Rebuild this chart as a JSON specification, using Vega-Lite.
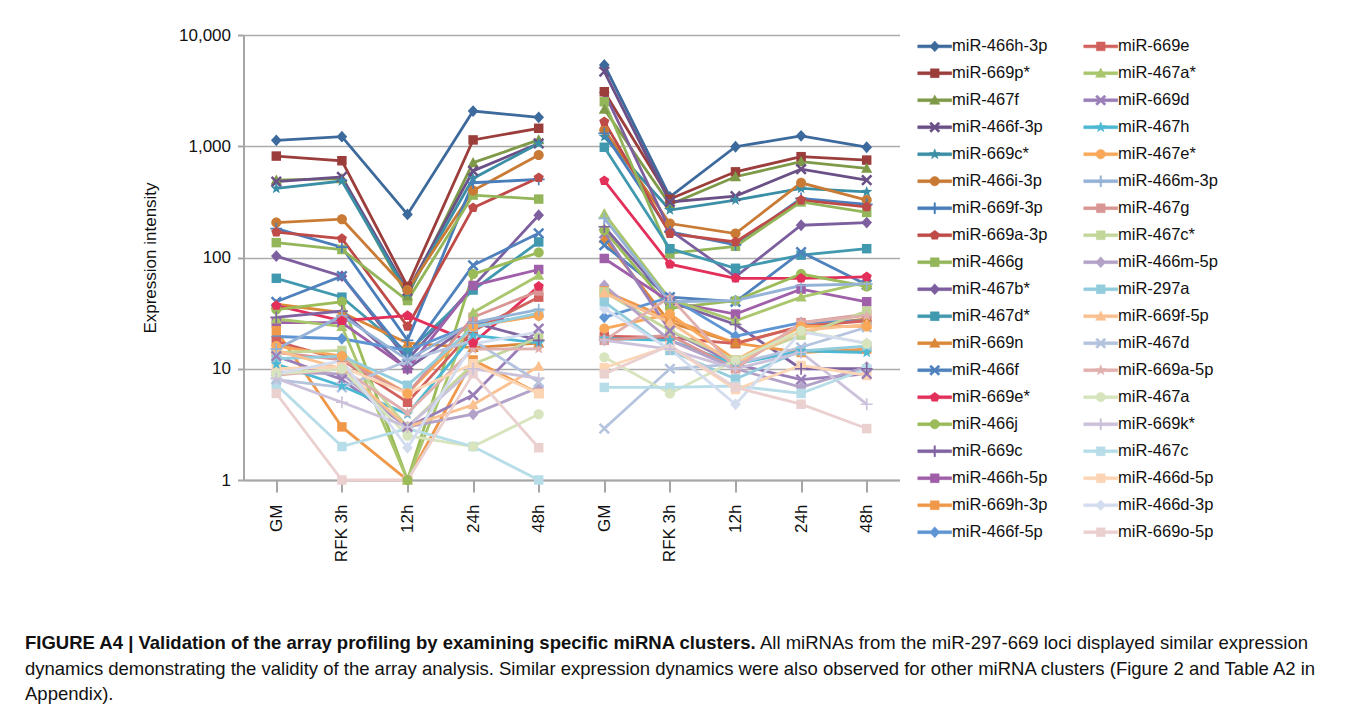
{
  "$schema": "https://vega.github.io/schema/vega-lite/v6.json",
  "width": 656,
  "height": 445,
  "autosize": {"type": "none"},
  "padding": {"left": 243.5, "top": 35, "right": 456.5, "bottom": 236},
  "background": "white",
  "config": {
    "font": "Liberation Sans",
    "view": {"stroke": null},
    "axis": {"labelFont": "Liberation Sans", "titleFont": "Liberation Sans", "labelColor": "#111", "titleColor": "#111", "domainColor": "#A6A6A6", "tickColor": "#A6A6A6", "gridColor": "#ABABAB", "domainWidth": 2, "tickWidth": 2, "gridWidth": 1.6}
  },
  "title": {
    "text": "FIGURE A4 | Validation of the array profiling by examining specific miRNA clusters.",
    "subtitle": [
      "dynamics demonstrating the validity of the array analysis. Similar expression dynamics were also observed for other miRNA clusters (Figure 2 and Table A2 in",
      "Appendix)."
    ],
    "orient": "bottom",
    "anchor": "start",
    "frame": "group",
    "dx": -218.5,
    "offset": -18,
    "font": "Liberation Sans",
    "fontSize": 18.5,
    "fontWeight": "bold",
    "color": "#111",
    "subtitleFont": "Liberation Sans",
    "subtitleFontSize": 18.5,
    "subtitleColor": "#111",
    "subtitleLineHeight": 25.5,
    "subtitlePadding": 7.5
  },
  "data": {"values": [
{"mirna":"miR-466h-3p","cond":"GFP","sample":"GFP|GM","value":1130},{"mirna":"miR-466h-3p","cond":"GFP","sample":"GFP|RFK 3h","value":1220},{"mirna":"miR-466h-3p","cond":"GFP","sample":"GFP|12h","value":244},{"mirna":"miR-466h-3p","cond":"GFP","sample":"GFP|24h","value":2070},{"mirna":"miR-466h-3p","cond":"GFP","sample":"GFP|48h","value":1820},
{"mirna":"miR-466h-3p","cond":"Cre-GFP","sample":"Cre-GFP|GM","value":5380},{"mirna":"miR-466h-3p","cond":"Cre-GFP","sample":"Cre-GFP|RFK 3h","value":350},{"mirna":"miR-466h-3p","cond":"Cre-GFP","sample":"Cre-GFP|12h","value":990},{"mirna":"miR-466h-3p","cond":"Cre-GFP","sample":"Cre-GFP|24h","value":1240},{"mirna":"miR-466h-3p","cond":"Cre-GFP","sample":"Cre-GFP|48h","value":980},
{"mirna":"miR-669p*","cond":"GFP","sample":"GFP|GM","value":816},{"mirna":"miR-669p*","cond":"GFP","sample":"GFP|RFK 3h","value":741},{"mirna":"miR-669p*","cond":"GFP","sample":"GFP|12h","value":55},{"mirna":"miR-669p*","cond":"GFP","sample":"GFP|24h","value":1140},{"mirna":"miR-669p*","cond":"GFP","sample":"GFP|48h","value":1450},
{"mirna":"miR-669p*","cond":"Cre-GFP","sample":"Cre-GFP|GM","value":3090},{"mirna":"miR-669p*","cond":"Cre-GFP","sample":"Cre-GFP|RFK 3h","value":335},{"mirna":"miR-669p*","cond":"Cre-GFP","sample":"Cre-GFP|12h","value":589},{"mirna":"miR-669p*","cond":"Cre-GFP","sample":"Cre-GFP|24h","value":806},{"mirna":"miR-669p*","cond":"Cre-GFP","sample":"Cre-GFP|48h","value":751},
{"mirna":"miR-467f","cond":"GFP","sample":"GFP|GM","value":496},{"mirna":"miR-467f","cond":"GFP","sample":"GFP|RFK 3h","value":511},{"mirna":"miR-467f","cond":"GFP","sample":"GFP|12h","value":45},{"mirna":"miR-467f","cond":"GFP","sample":"GFP|24h","value":711},{"mirna":"miR-467f","cond":"GFP","sample":"GFP|48h","value":1140},
{"mirna":"miR-467f","cond":"Cre-GFP","sample":"Cre-GFP|GM","value":2150},{"mirna":"miR-467f","cond":"Cre-GFP","sample":"Cre-GFP|RFK 3h","value":300},{"mirna":"miR-467f","cond":"Cre-GFP","sample":"Cre-GFP|12h","value":532},{"mirna":"miR-467f","cond":"Cre-GFP","sample":"Cre-GFP|24h","value":726},{"mirna":"miR-467f","cond":"Cre-GFP","sample":"Cre-GFP|48h","value":632},
{"mirna":"miR-466f-3p","cond":"GFP","sample":"GFP|GM","value":480},{"mirna":"miR-466f-3p","cond":"GFP","sample":"GFP|RFK 3h","value":530},{"mirna":"miR-466f-3p","cond":"GFP","sample":"GFP|12h","value":50},{"mirna":"miR-466f-3p","cond":"GFP","sample":"GFP|24h","value":600},{"mirna":"miR-466f-3p","cond":"GFP","sample":"GFP|48h","value":1060},
{"mirna":"miR-466f-3p","cond":"Cre-GFP","sample":"Cre-GFP|GM","value":4690},{"mirna":"miR-466f-3p","cond":"Cre-GFP","sample":"Cre-GFP|RFK 3h","value":316},{"mirna":"miR-466f-3p","cond":"Cre-GFP","sample":"Cre-GFP|12h","value":356},{"mirna":"miR-466f-3p","cond":"Cre-GFP","sample":"Cre-GFP|24h","value":623},{"mirna":"miR-466f-3p","cond":"Cre-GFP","sample":"Cre-GFP|48h","value":496},
{"mirna":"miR-669c*","cond":"GFP","sample":"GFP|GM","value":418},{"mirna":"miR-669c*","cond":"GFP","sample":"GFP|RFK 3h","value":486},{"mirna":"miR-669c*","cond":"GFP","sample":"GFP|12h","value":48},{"mirna":"miR-669c*","cond":"GFP","sample":"GFP|24h","value":514},{"mirna":"miR-669c*","cond":"GFP","sample":"GFP|48h","value":1060},
{"mirna":"miR-669c*","cond":"Cre-GFP","sample":"Cre-GFP|GM","value":1218},{"mirna":"miR-669c*","cond":"Cre-GFP","sample":"Cre-GFP|RFK 3h","value":267},{"mirna":"miR-669c*","cond":"Cre-GFP","sample":"Cre-GFP|12h","value":328},{"mirna":"miR-669c*","cond":"Cre-GFP","sample":"Cre-GFP|24h","value":418},{"mirna":"miR-669c*","cond":"Cre-GFP","sample":"Cre-GFP|48h","value":389},
{"mirna":"miR-466i-3p","cond":"GFP","sample":"GFP|GM","value":206},{"mirna":"miR-466i-3p","cond":"GFP","sample":"GFP|RFK 3h","value":221},{"mirna":"miR-466i-3p","cond":"GFP","sample":"GFP|12h","value":51},{"mirna":"miR-466i-3p","cond":"GFP","sample":"GFP|24h","value":400},{"mirna":"miR-466i-3p","cond":"GFP","sample":"GFP|48h","value":834},
{"mirna":"miR-466i-3p","cond":"Cre-GFP","sample":"Cre-GFP|GM","value":1400},{"mirna":"miR-466i-3p","cond":"Cre-GFP","sample":"Cre-GFP|RFK 3h","value":202},{"mirna":"miR-466i-3p","cond":"Cre-GFP","sample":"Cre-GFP|12h","value":164},{"mirna":"miR-466i-3p","cond":"Cre-GFP","sample":"Cre-GFP|24h","value":469},{"mirna":"miR-466i-3p","cond":"Cre-GFP","sample":"Cre-GFP|48h","value":328},
{"mirna":"miR-669f-3p","cond":"GFP","sample":"GFP|GM","value":182},{"mirna":"miR-669f-3p","cond":"GFP","sample":"GFP|RFK 3h","value":124},{"mirna":"miR-669f-3p","cond":"GFP","sample":"GFP|12h","value":18},{"mirna":"miR-669f-3p","cond":"GFP","sample":"GFP|24h","value":470},{"mirna":"miR-669f-3p","cond":"GFP","sample":"GFP|48h","value":503},
{"mirna":"miR-669f-3p","cond":"Cre-GFP","sample":"Cre-GFP|GM","value":1306},{"mirna":"miR-669f-3p","cond":"Cre-GFP","sample":"Cre-GFP|RFK 3h","value":170},{"mirna":"miR-669f-3p","cond":"Cre-GFP","sample":"Cre-GFP|12h","value":130},{"mirna":"miR-669f-3p","cond":"Cre-GFP","sample":"Cre-GFP|24h","value":340},{"mirna":"miR-669f-3p","cond":"Cre-GFP","sample":"Cre-GFP|48h","value":300},
{"mirna":"miR-669a-3p","cond":"GFP","sample":"GFP|GM","value":169},{"mirna":"miR-669a-3p","cond":"GFP","sample":"GFP|RFK 3h","value":148},{"mirna":"miR-669a-3p","cond":"GFP","sample":"GFP|12h","value":24},{"mirna":"miR-669a-3p","cond":"GFP","sample":"GFP|24h","value":280},{"mirna":"miR-669a-3p","cond":"GFP","sample":"GFP|48h","value":521},
{"mirna":"miR-669a-3p","cond":"Cre-GFP","sample":"Cre-GFP|GM","value":1660},{"mirna":"miR-669a-3p","cond":"Cre-GFP","sample":"Cre-GFP|RFK 3h","value":164},{"mirna":"miR-669a-3p","cond":"Cre-GFP","sample":"Cre-GFP|12h","value":138},{"mirna":"miR-669a-3p","cond":"Cre-GFP","sample":"Cre-GFP|24h","value":328},{"mirna":"miR-669a-3p","cond":"Cre-GFP","sample":"Cre-GFP|48h","value":285},
{"mirna":"miR-466g","cond":"GFP","sample":"GFP|GM","value":136},{"mirna":"miR-466g","cond":"GFP","sample":"GFP|RFK 3h","value":118},{"mirna":"miR-466g","cond":"GFP","sample":"GFP|12h","value":41},{"mirna":"miR-466g","cond":"GFP","sample":"GFP|24h","value":364},{"mirna":"miR-466g","cond":"GFP","sample":"GFP|48h","value":335},
{"mirna":"miR-466g","cond":"Cre-GFP","sample":"Cre-GFP|GM","value":2510},{"mirna":"miR-466g","cond":"Cre-GFP","sample":"Cre-GFP|RFK 3h","value":109},{"mirna":"miR-466g","cond":"Cre-GFP","sample":"Cre-GFP|12h","value":126},{"mirna":"miR-466g","cond":"Cre-GFP","sample":"Cre-GFP|24h","value":316},{"mirna":"miR-466g","cond":"Cre-GFP","sample":"Cre-GFP|48h","value":254},
{"mirna":"miR-467b*","cond":"GFP","sample":"GFP|GM","value":103},{"mirna":"miR-467b*","cond":"GFP","sample":"GFP|RFK 3h","value":68},{"mirna":"miR-467b*","cond":"GFP","sample":"GFP|12h","value":12},{"mirna":"miR-467b*","cond":"GFP","sample":"GFP|24h","value":55},{"mirna":"miR-467b*","cond":"GFP","sample":"GFP|48h","value":240},
{"mirna":"miR-467b*","cond":"Cre-GFP","sample":"Cre-GFP|GM","value":3040},{"mirna":"miR-467b*","cond":"Cre-GFP","sample":"Cre-GFP|RFK 3h","value":176},{"mirna":"miR-467b*","cond":"Cre-GFP","sample":"Cre-GFP|12h","value":67},{"mirna":"miR-467b*","cond":"Cre-GFP","sample":"Cre-GFP|24h","value":195},{"mirna":"miR-467b*","cond":"Cre-GFP","sample":"Cre-GFP|48h","value":206},
{"mirna":"miR-467d*","cond":"GFP","sample":"GFP|GM","value":65},{"mirna":"miR-467d*","cond":"GFP","sample":"GFP|RFK 3h","value":44},{"mirna":"miR-467d*","cond":"GFP","sample":"GFP|12h","value":14},{"mirna":"miR-467d*","cond":"GFP","sample":"GFP|24h","value":51},{"mirna":"miR-467d*","cond":"GFP","sample":"GFP|48h","value":138},
{"mirna":"miR-467d*","cond":"Cre-GFP","sample":"Cre-GFP|GM","value":980},{"mirna":"miR-467d*","cond":"Cre-GFP","sample":"Cre-GFP|RFK 3h","value":120},{"mirna":"miR-467d*","cond":"Cre-GFP","sample":"Cre-GFP|12h","value":80},{"mirna":"miR-467d*","cond":"Cre-GFP","sample":"Cre-GFP|24h","value":105},{"mirna":"miR-467d*","cond":"Cre-GFP","sample":"Cre-GFP|48h","value":120},
{"mirna":"miR-669n","cond":"GFP","sample":"GFP|GM","value":38},{"mirna":"miR-669n","cond":"GFP","sample":"GFP|RFK 3h","value":32},{"mirna":"miR-669n","cond":"GFP","sample":"GFP|12h","value":17},{"mirna":"miR-669n","cond":"GFP","sample":"GFP|24h","value":15.5},{"mirna":"miR-669n","cond":"GFP","sample":"GFP|48h","value":17},
{"mirna":"miR-669n","cond":"Cre-GFP","sample":"Cre-GFP|GM","value":148},{"mirna":"miR-669n","cond":"Cre-GFP","sample":"Cre-GFP|RFK 3h","value":26},{"mirna":"miR-669n","cond":"Cre-GFP","sample":"Cre-GFP|12h","value":17},{"mirna":"miR-669n","cond":"Cre-GFP","sample":"Cre-GFP|24h","value":24},{"mirna":"miR-669n","cond":"Cre-GFP","sample":"Cre-GFP|48h","value":28},
{"mirna":"miR-466f","cond":"GFP","sample":"GFP|GM","value":40},{"mirna":"miR-466f","cond":"GFP","sample":"GFP|RFK 3h","value":68},{"mirna":"miR-466f","cond":"GFP","sample":"GFP|12h","value":13},{"mirna":"miR-466f","cond":"GFP","sample":"GFP|24h","value":85},{"mirna":"miR-466f","cond":"GFP","sample":"GFP|48h","value":165},
{"mirna":"miR-466f","cond":"Cre-GFP","sample":"Cre-GFP|GM","value":129},{"mirna":"miR-466f","cond":"Cre-GFP","sample":"Cre-GFP|RFK 3h","value":44},{"mirna":"miR-466f","cond":"Cre-GFP","sample":"Cre-GFP|12h","value":40},{"mirna":"miR-466f","cond":"Cre-GFP","sample":"Cre-GFP|24h","value":112},{"mirna":"miR-466f","cond":"Cre-GFP","sample":"Cre-GFP|48h","value":57},
{"mirna":"miR-669e*","cond":"GFP","sample":"GFP|GM","value":37},{"mirna":"miR-669e*","cond":"GFP","sample":"GFP|RFK 3h","value":27},{"mirna":"miR-669e*","cond":"GFP","sample":"GFP|12h","value":30},{"mirna":"miR-669e*","cond":"GFP","sample":"GFP|24h","value":17},{"mirna":"miR-669e*","cond":"GFP","sample":"GFP|48h","value":55},
{"mirna":"miR-669e*","cond":"Cre-GFP","sample":"Cre-GFP|GM","value":490},{"mirna":"miR-669e*","cond":"Cre-GFP","sample":"Cre-GFP|RFK 3h","value":87},{"mirna":"miR-669e*","cond":"Cre-GFP","sample":"Cre-GFP|12h","value":65},{"mirna":"miR-669e*","cond":"Cre-GFP","sample":"Cre-GFP|24h","value":65},{"mirna":"miR-669e*","cond":"Cre-GFP","sample":"Cre-GFP|48h","value":67},
{"mirna":"miR-466j","cond":"GFP","sample":"GFP|GM","value":34},{"mirna":"miR-466j","cond":"GFP","sample":"GFP|RFK 3h","value":40},{"mirna":"miR-466j","cond":"GFP","sample":"GFP|12h","value":1},{"mirna":"miR-466j","cond":"GFP","sample":"GFP|24h","value":71},{"mirna":"miR-466j","cond":"GFP","sample":"GFP|48h","value":111},
{"mirna":"miR-466j","cond":"Cre-GFP","sample":"Cre-GFP|GM","value":176},{"mirna":"miR-466j","cond":"Cre-GFP","sample":"Cre-GFP|RFK 3h","value":35},{"mirna":"miR-466j","cond":"Cre-GFP","sample":"Cre-GFP|12h","value":41},{"mirna":"miR-466j","cond":"Cre-GFP","sample":"Cre-GFP|24h","value":71},{"mirna":"miR-466j","cond":"Cre-GFP","sample":"Cre-GFP|48h","value":55},
{"mirna":"miR-669c","cond":"GFP","sample":"GFP|GM","value":29},{"mirna":"miR-669c","cond":"GFP","sample":"GFP|RFK 3h","value":33},{"mirna":"miR-669c","cond":"GFP","sample":"GFP|12h","value":10},{"mirna":"miR-669c","cond":"GFP","sample":"GFP|24h","value":26},{"mirna":"miR-669c","cond":"GFP","sample":"GFP|48h","value":18},
{"mirna":"miR-669c","cond":"Cre-GFP","sample":"Cre-GFP|GM","value":189},{"mirna":"miR-669c","cond":"Cre-GFP","sample":"Cre-GFP|RFK 3h","value":40},{"mirna":"miR-669c","cond":"Cre-GFP","sample":"Cre-GFP|12h","value":25},{"mirna":"miR-669c","cond":"Cre-GFP","sample":"Cre-GFP|24h","value":10},{"mirna":"miR-669c","cond":"Cre-GFP","sample":"Cre-GFP|48h","value":10},
{"mirna":"miR-466h-5p","cond":"GFP","sample":"GFP|GM","value":26},{"mirna":"miR-466h-5p","cond":"GFP","sample":"GFP|RFK 3h","value":26},{"mirna":"miR-466h-5p","cond":"GFP","sample":"GFP|12h","value":10},{"mirna":"miR-466h-5p","cond":"GFP","sample":"GFP|24h","value":56},{"mirna":"miR-466h-5p","cond":"GFP","sample":"GFP|48h","value":78},
{"mirna":"miR-466h-5p","cond":"Cre-GFP","sample":"Cre-GFP|GM","value":98},{"mirna":"miR-466h-5p","cond":"Cre-GFP","sample":"Cre-GFP|RFK 3h","value":40},{"mirna":"miR-466h-5p","cond":"Cre-GFP","sample":"Cre-GFP|12h","value":31},{"mirna":"miR-466h-5p","cond":"Cre-GFP","sample":"Cre-GFP|24h","value":52},{"mirna":"miR-466h-5p","cond":"Cre-GFP","sample":"Cre-GFP|48h","value":40},
{"mirna":"miR-669h-3p","cond":"GFP","sample":"GFP|GM","value":22},{"mirna":"miR-669h-3p","cond":"GFP","sample":"GFP|RFK 3h","value":3},{"mirna":"miR-669h-3p","cond":"GFP","sample":"GFP|12h","value":1},{"mirna":"miR-669h-3p","cond":"GFP","sample":"GFP|24h","value":12},{"mirna":"miR-669h-3p","cond":"GFP","sample":"GFP|48h","value":6},
{"mirna":"miR-669h-3p","cond":"Cre-GFP","sample":"Cre-GFP|GM","value":50},{"mirna":"miR-669h-3p","cond":"Cre-GFP","sample":"Cre-GFP|RFK 3h","value":28},{"mirna":"miR-669h-3p","cond":"Cre-GFP","sample":"Cre-GFP|12h","value":17},{"mirna":"miR-669h-3p","cond":"Cre-GFP","sample":"Cre-GFP|24h","value":14},{"mirna":"miR-669h-3p","cond":"Cre-GFP","sample":"Cre-GFP|48h","value":15},
{"mirna":"miR-466f-5p","cond":"GFP","sample":"GFP|GM","value":19.5},{"mirna":"miR-466f-5p","cond":"GFP","sample":"GFP|RFK 3h","value":18.6},{"mirna":"miR-466f-5p","cond":"GFP","sample":"GFP|12h","value":14.6},{"mirna":"miR-466f-5p","cond":"GFP","sample":"GFP|24h","value":25},{"mirna":"miR-466f-5p","cond":"GFP","sample":"GFP|48h","value":30},
{"mirna":"miR-466f-5p","cond":"Cre-GFP","sample":"Cre-GFP|GM","value":29},{"mirna":"miR-466f-5p","cond":"Cre-GFP","sample":"Cre-GFP|RFK 3h","value":44},{"mirna":"miR-466f-5p","cond":"Cre-GFP","sample":"Cre-GFP|12h","value":19.6},{"mirna":"miR-466f-5p","cond":"Cre-GFP","sample":"Cre-GFP|24h","value":26},{"mirna":"miR-466f-5p","cond":"Cre-GFP","sample":"Cre-GFP|48h","value":27},
{"mirna":"miR-669e","cond":"GFP","sample":"GFP|GM","value":17.6},{"mirna":"miR-669e","cond":"GFP","sample":"GFP|RFK 3h","value":12},{"mirna":"miR-669e","cond":"GFP","sample":"GFP|12h","value":5},{"mirna":"miR-669e","cond":"GFP","sample":"GFP|24h","value":22},{"mirna":"miR-669e","cond":"GFP","sample":"GFP|48h","value":44},
{"mirna":"miR-669e","cond":"Cre-GFP","sample":"Cre-GFP|GM","value":19.6},{"mirna":"miR-669e","cond":"Cre-GFP","sample":"Cre-GFP|RFK 3h","value":19},{"mirna":"miR-669e","cond":"Cre-GFP","sample":"Cre-GFP|12h","value":16.8},{"mirna":"miR-669e","cond":"Cre-GFP","sample":"Cre-GFP|24h","value":24},{"mirna":"miR-669e","cond":"Cre-GFP","sample":"Cre-GFP|48h","value":27},
{"mirna":"miR-467a*","cond":"GFP","sample":"GFP|GM","value":28},{"mirna":"miR-467a*","cond":"GFP","sample":"GFP|RFK 3h","value":24},{"mirna":"miR-467a*","cond":"GFP","sample":"GFP|12h","value":1},{"mirna":"miR-467a*","cond":"GFP","sample":"GFP|24h","value":32},{"mirna":"miR-467a*","cond":"GFP","sample":"GFP|48h","value":69},
{"mirna":"miR-467a*","cond":"Cre-GFP","sample":"Cre-GFP|GM","value":248},{"mirna":"miR-467a*","cond":"Cre-GFP","sample":"Cre-GFP|RFK 3h","value":42},{"mirna":"miR-467a*","cond":"Cre-GFP","sample":"Cre-GFP|12h","value":27},{"mirna":"miR-467a*","cond":"Cre-GFP","sample":"Cre-GFP|24h","value":44},{"mirna":"miR-467a*","cond":"Cre-GFP","sample":"Cre-GFP|48h","value":60},
{"mirna":"miR-669d","cond":"GFP","sample":"GFP|GM","value":13},{"mirna":"miR-669d","cond":"GFP","sample":"GFP|RFK 3h","value":8},{"mirna":"miR-669d","cond":"GFP","sample":"GFP|12h","value":3},{"mirna":"miR-669d","cond":"GFP","sample":"GFP|24h","value":5.8},{"mirna":"miR-669d","cond":"GFP","sample":"GFP|48h","value":23},
{"mirna":"miR-669d","cond":"Cre-GFP","sample":"Cre-GFP|GM","value":165},{"mirna":"miR-669d","cond":"Cre-GFP","sample":"Cre-GFP|RFK 3h","value":22},{"mirna":"miR-669d","cond":"Cre-GFP","sample":"Cre-GFP|12h","value":11},{"mirna":"miR-669d","cond":"Cre-GFP","sample":"Cre-GFP|24h","value":8},{"mirna":"miR-669d","cond":"Cre-GFP","sample":"Cre-GFP|48h","value":9},
{"mirna":"miR-467h","cond":"GFP","sample":"GFP|GM","value":11},{"mirna":"miR-467h","cond":"GFP","sample":"GFP|RFK 3h","value":7},{"mirna":"miR-467h","cond":"GFP","sample":"GFP|12h","value":3.9},{"mirna":"miR-467h","cond":"GFP","sample":"GFP|24h","value":20},{"mirna":"miR-467h","cond":"GFP","sample":"GFP|48h","value":17},
{"mirna":"miR-467h","cond":"Cre-GFP","sample":"Cre-GFP|GM","value":18.7},{"mirna":"miR-467h","cond":"Cre-GFP","sample":"Cre-GFP|RFK 3h","value":18},{"mirna":"miR-467h","cond":"Cre-GFP","sample":"Cre-GFP|12h","value":11},{"mirna":"miR-467h","cond":"Cre-GFP","sample":"Cre-GFP|24h","value":14.5},{"mirna":"miR-467h","cond":"Cre-GFP","sample":"Cre-GFP|48h","value":14},
{"mirna":"miR-467e*","cond":"GFP","sample":"GFP|GM","value":16},{"mirna":"miR-467e*","cond":"GFP","sample":"GFP|RFK 3h","value":13},{"mirna":"miR-467e*","cond":"GFP","sample":"GFP|12h","value":6},{"mirna":"miR-467e*","cond":"GFP","sample":"GFP|24h","value":24},{"mirna":"miR-467e*","cond":"GFP","sample":"GFP|48h","value":30},
{"mirna":"miR-467e*","cond":"Cre-GFP","sample":"Cre-GFP|GM","value":23},{"mirna":"miR-467e*","cond":"Cre-GFP","sample":"Cre-GFP|RFK 3h","value":31},{"mirna":"miR-467e*","cond":"Cre-GFP","sample":"Cre-GFP|12h","value":12},{"mirna":"miR-467e*","cond":"Cre-GFP","sample":"Cre-GFP|24h","value":24},{"mirna":"miR-467e*","cond":"Cre-GFP","sample":"Cre-GFP|48h","value":24},
{"mirna":"miR-466m-3p","cond":"GFP","sample":"GFP|GM","value":15},{"mirna":"miR-466m-3p","cond":"GFP","sample":"GFP|RFK 3h","value":30},{"mirna":"miR-466m-3p","cond":"GFP","sample":"GFP|12h","value":12},{"mirna":"miR-466m-3p","cond":"GFP","sample":"GFP|24h","value":26},{"mirna":"miR-466m-3p","cond":"GFP","sample":"GFP|48h","value":34},
{"mirna":"miR-466m-3p","cond":"Cre-GFP","sample":"Cre-GFP|GM","value":225},{"mirna":"miR-466m-3p","cond":"Cre-GFP","sample":"Cre-GFP|RFK 3h","value":40},{"mirna":"miR-466m-3p","cond":"Cre-GFP","sample":"Cre-GFP|12h","value":41},{"mirna":"miR-466m-3p","cond":"Cre-GFP","sample":"Cre-GFP|24h","value":56},{"mirna":"miR-466m-3p","cond":"Cre-GFP","sample":"Cre-GFP|48h","value":58},
{"mirna":"miR-467g","cond":"GFP","sample":"GFP|GM","value":14},{"mirna":"miR-467g","cond":"GFP","sample":"GFP|RFK 3h","value":12},{"mirna":"miR-467g","cond":"GFP","sample":"GFP|12h","value":6},{"mirna":"miR-467g","cond":"GFP","sample":"GFP|24h","value":29},{"mirna":"miR-467g","cond":"GFP","sample":"GFP|48h","value":50},
{"mirna":"miR-467g","cond":"Cre-GFP","sample":"Cre-GFP|GM","value":18},{"mirna":"miR-467g","cond":"Cre-GFP","sample":"Cre-GFP|RFK 3h","value":20},{"mirna":"miR-467g","cond":"Cre-GFP","sample":"Cre-GFP|12h","value":10},{"mirna":"miR-467g","cond":"Cre-GFP","sample":"Cre-GFP|24h","value":26},{"mirna":"miR-467g","cond":"Cre-GFP","sample":"Cre-GFP|48h","value":31},
{"mirna":"miR-467c*","cond":"GFP","sample":"GFP|GM","value":14},{"mirna":"miR-467c*","cond":"GFP","sample":"GFP|RFK 3h","value":14.6},{"mirna":"miR-467c*","cond":"GFP","sample":"GFP|12h","value":3},{"mirna":"miR-467c*","cond":"GFP","sample":"GFP|24h","value":11},{"mirna":"miR-467c*","cond":"GFP","sample":"GFP|48h","value":19},
{"mirna":"miR-467c*","cond":"Cre-GFP","sample":"Cre-GFP|GM","value":49},{"mirna":"miR-467c*","cond":"Cre-GFP","sample":"Cre-GFP|RFK 3h","value":22},{"mirna":"miR-467c*","cond":"Cre-GFP","sample":"Cre-GFP|12h","value":12},{"mirna":"miR-467c*","cond":"Cre-GFP","sample":"Cre-GFP|24h","value":20},{"mirna":"miR-467c*","cond":"Cre-GFP","sample":"Cre-GFP|48h","value":33},
{"mirna":"miR-466m-5p","cond":"GFP","sample":"GFP|GM","value":9.3},{"mirna":"miR-466m-5p","cond":"GFP","sample":"GFP|RFK 3h","value":9},{"mirna":"miR-466m-5p","cond":"GFP","sample":"GFP|12h","value":3},{"mirna":"miR-466m-5p","cond":"GFP","sample":"GFP|24h","value":3.9},{"mirna":"miR-466m-5p","cond":"GFP","sample":"GFP|48h","value":6.8},
{"mirna":"miR-466m-5p","cond":"Cre-GFP","sample":"Cre-GFP|GM","value":56},{"mirna":"miR-466m-5p","cond":"Cre-GFP","sample":"Cre-GFP|RFK 3h","value":18},{"mirna":"miR-466m-5p","cond":"Cre-GFP","sample":"Cre-GFP|12h","value":10},{"mirna":"miR-466m-5p","cond":"Cre-GFP","sample":"Cre-GFP|24h","value":6.8},{"mirna":"miR-466m-5p","cond":"Cre-GFP","sample":"Cre-GFP|48h","value":10.4},
{"mirna":"miR-297a","cond":"GFP","sample":"GFP|GM","value":12.3},{"mirna":"miR-297a","cond":"GFP","sample":"GFP|RFK 3h","value":13},{"mirna":"miR-297a","cond":"GFP","sample":"GFP|12h","value":7.1},{"mirna":"miR-297a","cond":"GFP","sample":"GFP|24h","value":23.6},{"mirna":"miR-297a","cond":"GFP","sample":"GFP|48h","value":31.6},
{"mirna":"miR-297a","cond":"Cre-GFP","sample":"Cre-GFP|GM","value":40},{"mirna":"miR-297a","cond":"Cre-GFP","sample":"Cre-GFP|RFK 3h","value":14.6},{"mirna":"miR-297a","cond":"Cre-GFP","sample":"Cre-GFP|12h","value":8.1},{"mirna":"miR-297a","cond":"Cre-GFP","sample":"Cre-GFP|24h","value":14.5},{"mirna":"miR-297a","cond":"Cre-GFP","sample":"Cre-GFP|48h","value":16},
{"mirna":"miR-669f-5p","cond":"GFP","sample":"GFP|GM","value":14.6},{"mirna":"miR-669f-5p","cond":"GFP","sample":"GFP|RFK 3h","value":10},{"mirna":"miR-669f-5p","cond":"GFP","sample":"GFP|12h","value":3},{"mirna":"miR-669f-5p","cond":"GFP","sample":"GFP|24h","value":4.75},{"mirna":"miR-669f-5p","cond":"GFP","sample":"GFP|48h","value":10.5},
{"mirna":"miR-669f-5p","cond":"Cre-GFP","sample":"Cre-GFP|GM","value":48},{"mirna":"miR-669f-5p","cond":"Cre-GFP","sample":"Cre-GFP|RFK 3h","value":26},{"mirna":"miR-669f-5p","cond":"Cre-GFP","sample":"Cre-GFP|12h","value":11},{"mirna":"miR-669f-5p","cond":"Cre-GFP","sample":"Cre-GFP|24h","value":22},{"mirna":"miR-669f-5p","cond":"Cre-GFP","sample":"Cre-GFP|48h","value":25},
{"mirna":"miR-467d","cond":"GFP","sample":"GFP|GM","value":8},{"mirna":"miR-467d","cond":"GFP","sample":"GFP|RFK 3h","value":6.8},{"mirna":"miR-467d","cond":"GFP","sample":"GFP|12h","value":11.8},{"mirna":"miR-467d","cond":"GFP","sample":"GFP|24h","value":18},{"mirna":"miR-467d","cond":"GFP","sample":"GFP|48h","value":7.6},
{"mirna":"miR-467d","cond":"Cre-GFP","sample":"Cre-GFP|GM","value":2.9},{"mirna":"miR-467d","cond":"Cre-GFP","sample":"Cre-GFP|RFK 3h","value":10},{"mirna":"miR-467d","cond":"Cre-GFP","sample":"Cre-GFP|12h","value":11},{"mirna":"miR-467d","cond":"Cre-GFP","sample":"Cre-GFP|24h","value":15.6},{"mirna":"miR-467d","cond":"Cre-GFP","sample":"Cre-GFP|48h","value":23.6},
{"mirna":"miR-669a-5p","cond":"GFP","sample":"GFP|GM","value":8.7},{"mirna":"miR-669a-5p","cond":"GFP","sample":"GFP|RFK 3h","value":10},{"mirna":"miR-669a-5p","cond":"GFP","sample":"GFP|12h","value":4},{"mirna":"miR-669a-5p","cond":"GFP","sample":"GFP|24h","value":15},{"mirna":"miR-669a-5p","cond":"GFP","sample":"GFP|48h","value":15.1},
{"mirna":"miR-669a-5p","cond":"Cre-GFP","sample":"Cre-GFP|GM","value":18},{"mirna":"miR-669a-5p","cond":"Cre-GFP","sample":"Cre-GFP|RFK 3h","value":44},{"mirna":"miR-669a-5p","cond":"Cre-GFP","sample":"Cre-GFP|12h","value":10},{"mirna":"miR-669a-5p","cond":"Cre-GFP","sample":"Cre-GFP|24h","value":26},{"mirna":"miR-669a-5p","cond":"Cre-GFP","sample":"Cre-GFP|48h","value":30},
{"mirna":"miR-467a","cond":"GFP","sample":"GFP|GM","value":9},{"mirna":"miR-467a","cond":"GFP","sample":"GFP|RFK 3h","value":10},{"mirna":"miR-467a","cond":"GFP","sample":"GFP|12h","value":2.5},{"mirna":"miR-467a","cond":"GFP","sample":"GFP|24h","value":2},{"mirna":"miR-467a","cond":"GFP","sample":"GFP|48h","value":3.9},
{"mirna":"miR-467a","cond":"Cre-GFP","sample":"Cre-GFP|GM","value":12.7},{"mirna":"miR-467a","cond":"Cre-GFP","sample":"Cre-GFP|RFK 3h","value":6},{"mirna":"miR-467a","cond":"Cre-GFP","sample":"Cre-GFP|12h","value":11.9},{"mirna":"miR-467a","cond":"Cre-GFP","sample":"Cre-GFP|24h","value":22},{"mirna":"miR-467a","cond":"Cre-GFP","sample":"Cre-GFP|48h","value":16.8},
{"mirna":"miR-669k*","cond":"GFP","sample":"GFP|GM","value":8.2},{"mirna":"miR-669k*","cond":"GFP","sample":"GFP|RFK 3h","value":5},{"mirna":"miR-669k*","cond":"GFP","sample":"GFP|12h","value":3},{"mirna":"miR-669k*","cond":"GFP","sample":"GFP|24h","value":10},{"mirna":"miR-669k*","cond":"GFP","sample":"GFP|48h","value":8.2},
{"mirna":"miR-669k*","cond":"Cre-GFP","sample":"Cre-GFP|GM","value":18},{"mirna":"miR-669k*","cond":"Cre-GFP","sample":"Cre-GFP|RFK 3h","value":15},{"mirna":"miR-669k*","cond":"Cre-GFP","sample":"Cre-GFP|12h","value":10},{"mirna":"miR-669k*","cond":"Cre-GFP","sample":"Cre-GFP|24h","value":14},{"mirna":"miR-669k*","cond":"Cre-GFP","sample":"Cre-GFP|48h","value":4.8},
{"mirna":"miR-467c","cond":"GFP","sample":"GFP|GM","value":7.2},{"mirna":"miR-467c","cond":"GFP","sample":"GFP|RFK 3h","value":2},{"mirna":"miR-467c","cond":"GFP","sample":"GFP|12h","value":2.9},{"mirna":"miR-467c","cond":"GFP","sample":"GFP|24h","value":2},{"mirna":"miR-467c","cond":"GFP","sample":"GFP|48h","value":1},
{"mirna":"miR-467c","cond":"Cre-GFP","sample":"Cre-GFP|GM","value":6.8},{"mirna":"miR-467c","cond":"Cre-GFP","sample":"Cre-GFP|RFK 3h","value":6.8},{"mirna":"miR-467c","cond":"Cre-GFP","sample":"Cre-GFP|12h","value":7},{"mirna":"miR-467c","cond":"Cre-GFP","sample":"Cre-GFP|24h","value":6},{"mirna":"miR-467c","cond":"Cre-GFP","sample":"Cre-GFP|48h","value":10},
{"mirna":"miR-466d-5p","cond":"GFP","sample":"GFP|GM","value":10},{"mirna":"miR-466d-5p","cond":"GFP","sample":"GFP|RFK 3h","value":10.4},{"mirna":"miR-466d-5p","cond":"GFP","sample":"GFP|12h","value":6},{"mirna":"miR-466d-5p","cond":"GFP","sample":"GFP|24h","value":11.1},{"mirna":"miR-466d-5p","cond":"GFP","sample":"GFP|48h","value":6},
{"mirna":"miR-466d-5p","cond":"Cre-GFP","sample":"Cre-GFP|GM","value":10.2},{"mirna":"miR-466d-5p","cond":"Cre-GFP","sample":"Cre-GFP|RFK 3h","value":16},{"mirna":"miR-466d-5p","cond":"Cre-GFP","sample":"Cre-GFP|12h","value":6.5},{"mirna":"miR-466d-5p","cond":"Cre-GFP","sample":"Cre-GFP|24h","value":10.7},{"mirna":"miR-466d-5p","cond":"Cre-GFP","sample":"Cre-GFP|48h","value":8.7},
{"mirna":"miR-466d-3p","cond":"GFP","sample":"GFP|GM","value":9},{"mirna":"miR-466d-3p","cond":"GFP","sample":"GFP|RFK 3h","value":11.8},{"mirna":"miR-466d-3p","cond":"GFP","sample":"GFP|12h","value":1.95},{"mirna":"miR-466d-3p","cond":"GFP","sample":"GFP|24h","value":16.7},{"mirna":"miR-466d-3p","cond":"GFP","sample":"GFP|48h","value":21.4},
{"mirna":"miR-466d-3p","cond":"Cre-GFP","sample":"Cre-GFP|GM","value":34.6},{"mirna":"miR-466d-3p","cond":"Cre-GFP","sample":"Cre-GFP|RFK 3h","value":15},{"mirna":"miR-466d-3p","cond":"Cre-GFP","sample":"Cre-GFP|12h","value":4.8},{"mirna":"miR-466d-3p","cond":"Cre-GFP","sample":"Cre-GFP|24h","value":21.4},{"mirna":"miR-466d-3p","cond":"Cre-GFP","sample":"Cre-GFP|48h","value":17},
{"mirna":"miR-669o-5p","cond":"GFP","sample":"GFP|GM","value":6},{"mirna":"miR-669o-5p","cond":"GFP","sample":"GFP|RFK 3h","value":1},{"mirna":"miR-669o-5p","cond":"GFP","sample":"GFP|12h","value":1},{"mirna":"miR-669o-5p","cond":"GFP","sample":"GFP|24h","value":9},{"mirna":"miR-669o-5p","cond":"GFP","sample":"GFP|48h","value":1.95},
{"mirna":"miR-669o-5p","cond":"Cre-GFP","sample":"Cre-GFP|GM","value":9},{"mirna":"miR-669o-5p","cond":"Cre-GFP","sample":"Cre-GFP|RFK 3h","value":16.2},{"mirna":"miR-669o-5p","cond":"Cre-GFP","sample":"Cre-GFP|12h","value":6.8},{"mirna":"miR-669o-5p","cond":"Cre-GFP","sample":"Cre-GFP|24h","value":4.8},{"mirna":"miR-669o-5p","cond":"Cre-GFP","sample":"Cre-GFP|48h","value":2.9}
  ]},
  "encoding": {
    "x": {"field": "sample", "type": "ordinal"},
    "y": {"field": "value", "type": "quantitative"},
    "color": {"field": "mirna", "type": "nominal"}
  },
  "layer": [
    {
      "mark": {"type": "line", "strokeWidth": 2.8},
      "encoding": {
        "x": {"field": "sample", "type": "ordinal", "scale": {"type": "point", "padding": 0.5, "domain": ["GFP|GM","GFP|RFK 3h","GFP|12h","GFP|24h","GFP|48h","Cre-GFP|GM","Cre-GFP|RFK 3h","Cre-GFP|12h","Cre-GFP|24h","Cre-GFP|48h"]},
              "axis": {"title": "All miRNAs from the miR-297-669 loci displayed similar expression", "titleX": 516, "titleY": 162, "titleAlign": "left", "titleAnchor": "start", "titleBaseline": "middle", "titleAngle": 0, "titleFontSize": 18.5, "titleFontWeight": "normal", "titleLimit": 1000,
                       "labelAngle": -90, "labelExpr": "split(datum.label, '|')[1]", "labelFontSize": 17, "tickSize": 12, "labelPadding": 12, "grid": false}},
        "y": {"field": "value", "type": "quantitative", "scale": {"type": "log", "domain": [1, 10000], "nice": false},
              "axis": {"title": "Expression intensity", "values": [1, 10, 100, 1000, 10000], "format": ",", "labelFontSize": 17, "titleFontSize": 17, "titleFontWeight": "normal", "tickSize": 6, "labelPadding": 7, "titlePadding": 19, "grid": true}},
        "color": {"field": "mirna", "type": "nominal",
          "scale": {
            "domain": ["miR-466h-3p","miR-669p*","miR-467f","miR-466f-3p","miR-669c*","miR-466i-3p","miR-669f-3p","miR-669a-3p","miR-466g","miR-467b*","miR-467d*","miR-669n","miR-466f","miR-669e*","miR-466j","miR-669c","miR-466h-5p","miR-669h-3p","miR-466f-5p","miR-669e","miR-467a*","miR-669d","miR-467h","miR-467e*","miR-466m-3p","miR-467g","miR-467c*","miR-466m-5p","miR-297a","miR-669f-5p","miR-467d","miR-669a-5p","miR-467a","miR-669k*","miR-467c","miR-466d-5p","miR-466d-3p","miR-669o-5p"],
            "range": ["#3D6A9C","#9B3E3B","#7E9A48","#6A5086","#3A8EA5","#C97B35","#4A7EBB","#BE4B48","#94B65A","#7D5F9F","#4199B0","#DB8838","#4F81BD","#E3305A","#9BBB59","#8064A2","#A05FA9","#F0984A","#5F95D3","#D2615D","#AAC66C","#9A7EB8","#4DB8D4","#F9A85A","#95B3D7","#D99694","#C3D69B","#B3A2C7","#93CDDD","#FAC090","#B4C3DE","#E0B0AF","#D7E4BD","#CCC1DA","#B7DDE8","#FCD5B5","#D3DDEF","#EBD0D0"]
          },
          "legend": {
            "title": null, "orient": "none", "legendX": 683, "legendY": 3, "columns": 2, "columnPadding": 35, "rowPadding": 10, "symbolLimit": 50,
            "labelFont": "Liberation Sans", "labelFontSize": 16.5, "labelColor": "#111", "labelOffset": 9, "labelLimit": 200,
            "symbolSize": 120, "symbolStrokeWidth": 0.5,
            "encode": {"symbols": {"update": {
              "shape": {"signal": "['M0,-1L0.9,0L0,1L-0.9,0Z','M-0.8,-0.8L0.8,-0.8L0.8,0.8L-0.8,0.8Z','M0,-0.95L0.95,0.75L-0.95,0.75Z','M-0.95,-0.65L-0.65,-0.95L0,-0.3L0.65,-0.95L0.95,-0.65L0.3,0L0.95,0.65L0.65,0.95L0,0.3L-0.65,0.95L-0.95,0.65L-0.3,0Z','M0,-1L0.247,-0.34L0.951,-0.309L0.399,0.13L0.588,0.809L0,0.42L-0.588,0.809L-0.399,0.13L-0.951,-0.309L-0.247,-0.34Z','M-0.85,0A0.85,0.85,0,1,1,0.85,0A0.85,0.85,0,1,1,-0.85,0Z','M-0.14,-1L0.14,-1L0.14,-0.14L1,-0.14L1,0.14L0.14,0.14L0.14,1L-0.14,1L-0.14,0.14L-1,0.14L-1,-0.14L-0.14,-0.14Z','M0,-0.9L0.856,-0.278L0.529,0.728L-0.529,0.728L-0.856,-0.278Z'][[0,1,2,3,4,5,6,7,1,0,1,2,3,7,5,6,1,1,0,1,2,3,4,5,6,1,1,0,1,2,3,4,5,6,1,1,0,1][indexof(['miR-466h-3p','miR-669p*','miR-467f','miR-466f-3p','miR-669c*','miR-466i-3p','miR-669f-3p','miR-669a-3p','miR-466g','miR-467b*','miR-467d*','miR-669n','miR-466f','miR-669e*','miR-466j','miR-669c','miR-466h-5p','miR-669h-3p','miR-466f-5p','miR-669e','miR-467a*','miR-669d','miR-467h','miR-467e*','miR-466m-3p','miR-467g','miR-467c*','miR-466m-5p','miR-297a','miR-669f-5p','miR-467d','miR-669a-5p','miR-467a','miR-669k*','miR-467c','miR-466d-5p','miR-466d-3p','miR-669o-5p'], datum.value)]] + 'M-3.1,-0.26L3.1,-0.26L3.1,0.26L-3.1,0.26Z'"},
              "fill": {"signal": "scale('color', datum.value)"},
              "opacity": {"value": 1}
            }}}
          }
        },
        "detail": {"field": "cond"}
      }
    },
    {
      "transform": [{"filter": {"field": "mirna", "oneOf": ["miR-466h-3p","miR-467b*","miR-466f-5p","miR-466m-5p","miR-466d-3p"]}}],
      "mark": {"type": "point", "filled": true, "size": 140, "opacity": 1, "shape": "M0,-1L0.9,0L0,1L-0.9,0Z"}
    },
    {
      "transform": [{"filter": {"field": "mirna", "oneOf": ["miR-669p*","miR-466g","miR-467d*","miR-466h-5p","miR-669h-3p","miR-669e","miR-467g","miR-467c*","miR-297a","miR-467c","miR-466d-5p","miR-669o-5p"]}}],
      "mark": {"type": "point", "filled": true, "size": 140, "opacity": 1, "shape": "M-0.8,-0.8L0.8,-0.8L0.8,0.8L-0.8,0.8Z"}
    },
    {
      "transform": [{"filter": {"field": "mirna", "oneOf": ["miR-467f","miR-669n","miR-467a*","miR-669f-5p"]}}],
      "mark": {"type": "point", "filled": true, "size": 140, "opacity": 1, "shape": "M0,-0.95L0.95,0.75L-0.95,0.75Z"}
    },
    {
      "transform": [{"filter": {"field": "mirna", "oneOf": ["miR-466f-3p","miR-466f","miR-669d","miR-467d"]}}],
      "mark": {"type": "point", "filled": true, "size": 140, "opacity": 1, "shape": "M-0.95,-0.65L-0.65,-0.95L0,-0.3L0.65,-0.95L0.95,-0.65L0.3,0L0.95,0.65L0.65,0.95L0,0.3L-0.65,0.95L-0.95,0.65L-0.3,0Z"}
    },
    {
      "transform": [{"filter": {"field": "mirna", "oneOf": ["miR-669c*","miR-467h","miR-669a-5p"]}}],
      "mark": {"type": "point", "filled": true, "size": 140, "opacity": 1, "shape": "M0,-1L0.247,-0.34L0.951,-0.309L0.399,0.13L0.588,0.809L0,0.42L-0.588,0.809L-0.399,0.13L-0.951,-0.309L-0.247,-0.34Z"}
    },
    {
      "transform": [{"filter": {"field": "mirna", "oneOf": ["miR-466i-3p","miR-466j","miR-467e*","miR-467a"]}}],
      "mark": {"type": "point", "filled": true, "size": 140, "opacity": 1, "shape": "M-0.85,0A0.85,0.85,0,1,1,0.85,0A0.85,0.85,0,1,1,-0.85,0Z"}
    },
    {
      "transform": [{"filter": {"field": "mirna", "oneOf": ["miR-669f-3p","miR-669c","miR-466m-3p","miR-669k*"]}}],
      "mark": {"type": "point", "filled": true, "size": 140, "opacity": 1, "shape": "M-0.14,-1L0.14,-1L0.14,-0.14L1,-0.14L1,0.14L0.14,0.14L0.14,1L-0.14,1L-0.14,0.14L-1,0.14L-1,-0.14L-0.14,-0.14Z"}
    },
    {
      "transform": [{"filter": {"field": "mirna", "oneOf": ["miR-669a-3p","miR-669e*"]}}],
      "mark": {"type": "point", "filled": true, "size": 140, "opacity": 1, "shape": "M0,-0.9L0.856,-0.278L0.529,0.728L-0.529,0.728L-0.856,-0.278Z"}
    },
    {
      "data": {"values": [
        {"cond": "GFP", "first": "GFP|GM", "last": "GFP|48h", "mid": "GFP|12h"},
        {"cond": "Cre-GFP", "first": "Cre-GFP|GM", "last": "Cre-GFP|48h", "mid": "Cre-GFP|12h"}
      ]},
      "layer": [
        {
          "mark": {"type": "rule", "color": "#000", "strokeWidth": 2, "xOffset": -11, "x2Offset": 10, "yOffset": 2},
          "encoding": {"x": {"field": "first", "type": "ordinal"}, "x2": {"field": "last"}, "y": {"datum": 0.1}, "color": {"value": "#000"}}
        },
        {
          "mark": {"type": "text", "fontSize": 17, "baseline": "top", "dy": 10, "font": "Liberation Sans"},
          "encoding": {"x": {"field": "mid", "type": "ordinal"}, "y": {"datum": 0.1}, "text": {"field": "cond"}, "color": {"value": "#111"}}
        }
      ]
    }
  ]
}
